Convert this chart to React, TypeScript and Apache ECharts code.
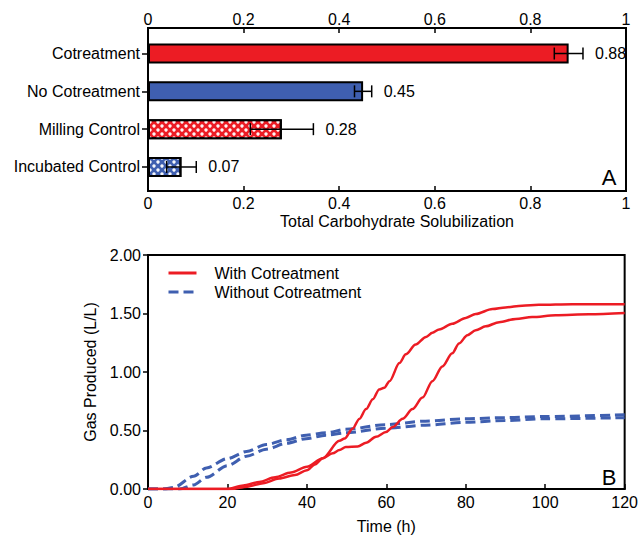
import React, { useEffect, useRef } from "react";
import * as echarts from "echarts";

const categories = ["Cotreatment", "No Cotreatment", "Milling Control", "Incubated Control"];
const solubilization = [0.88, 0.45, 0.28, 0.07];
const solubilizationErr = [0.03, 0.018, 0.066, 0.031];

const timeRedA = [0, 20, 24, 28, 32, 36, 40, 44, 48.2, 49.5, 51.5, 53.2, 54.9, 56.6, 58.2, 59.5, 60.8, 63.3, 64.9, 67.4, 70, 71.6, 73.3, 76.6, 80, 82.5, 86.7, 90, 94.2, 98.4, 106.8, 120];
const gasRedA = [0, 0, 0.03, 0.06, 0.1, 0.14, 0.19, 0.263, 0.412, 0.431, 0.515, 0.599, 0.683, 0.767, 0.851, 0.866, 0.922, 1.076, 1.151, 1.235, 1.3, 1.336, 1.364, 1.412, 1.462, 1.496, 1.538, 1.552, 1.566, 1.574, 1.58, 1.58];

const timeRedB = [0, 21, 25, 29, 33, 37, 40, 42, 44, 46.5, 48.2, 49.8, 52.8, 54.9, 57.4, 59.9, 61.6, 64.1, 66.6, 69.1, 71.6, 74.1, 76.6, 78.3, 80.4, 82.5, 85, 88.4, 92.6, 96.7, 102.6, 111, 120];
const gasRedB = [0, 0, 0.02, 0.05, 0.09, 0.12, 0.16, 0.21, 0.263, 0.305, 0.333, 0.36, 0.363, 0.395, 0.446, 0.487, 0.529, 0.6, 0.683, 0.781, 0.922, 1.048, 1.16, 1.244, 1.314, 1.356, 1.39, 1.426, 1.454, 1.47, 1.485, 1.493, 1.504];

const timeBlueA = [0, 4, 6.5, 11.5, 14.7, 20, 24.8, 29.8, 34.8, 39.8, 44.8, 49.8, 59.8, 69.8, 79.8, 89.8, 99.8, 120];
const gasBlueA = [0, 0, 0.014, 0.11, 0.18, 0.26, 0.32, 0.38, 0.42, 0.46, 0.48, 0.51, 0.55, 0.58, 0.6, 0.61, 0.62, 0.635];

const timeBlueB = [0, 8, 11.5, 14.7, 20, 24.8, 29.8, 34.8, 39.8, 44.8, 49.8, 59.8, 69.8, 79.8, 89.8, 99.8, 120];
const gasBlueB = [0, 0, 0.035, 0.1, 0.2, 0.28, 0.34, 0.39, 0.43, 0.46, 0.48, 0.52, 0.545, 0.57, 0.585, 0.6, 0.61];

const RED = "#ec1c24";
const BLUE = "#3f5fb0";
const FONT = "'Liberation Sans', Arial, sans-serif";
const FS = 16;

const zip = (t: number[], v: number[]) => t.map((x, i) => [x, v[i]]);

export default function App() {
  const ref = useRef<HTMLDivElement>(null);
  useEffect(() => {
    if (!ref.current) return;
    const chart = echarts.init(ref.current, null, { renderer: "svg" });
    const dotDecal = {
      symbol: "circle",
      symbolSize: 0.85,
      color: "rgba(255,255,255,0.95)",
      dashArrayX: [[3.5, 3.5], [0, 3.5, 3.5, 0]],
      dashArrayY: [3.5, 0],
      rotation: 0,
    };
    const barColors = [RED, BLUE, RED, BLUE];
    const barData = solubilization.map((v, i) => ({
      value: v,
      itemStyle: {
        color: barColors[i],
        borderColor: "#000",
        borderWidth: 2,
        decal: i >= 2 ? dotDecal : undefined,
      },
    }));
    const errData = solubilization.map((v, i) => [v, i, solubilizationErr[i]]);

    const lineCommon = {
      type: "line",
      xAxisIndex: 2,
      yAxisIndex: 1,
      showSymbol: false,
      symbol: "none",
      smooth: 0.3,
      smoothMonotone: "x",
    };

    const option: any = {
      animation: false,
      textStyle: { fontFamily: FONT },
      grid: [
        { left: 148, right: 15, top: 34.6, height: 151.3 },
        {
          left: 148,
          right: 15,
          top: 255,
          height: 238,
          show: true,
          borderColor: "#000",
          borderWidth: 2,
          backgroundColor: "transparent",
        },
      ],
      xAxis: [
        {
          gridIndex: 0,
          type: "value",
          position: "top",
          offset: 6.6,
          min: 0,
          max: 1,
          interval: 0.2,
          axisLine: { show: false },
          axisTick: { show: true, inside: true, length: 5, lineStyle: { color: "#000", width: 1.5 } },
          axisLabel: { color: "#000", fontSize: FS, margin: 1, fontFamily: FONT },
          splitLine: { show: false },
        },
        {
          gridIndex: 0,
          type: "value",
          position: "bottom",
          offset: 5.1,
          min: 0,
          max: 1,
          interval: 0.2,
          axisLine: { show: false },
          axisTick: { show: true, inside: true, length: 5, lineStyle: { color: "#000", width: 1.5 } },
          axisLabel: { color: "#000", fontSize: FS, margin: 4, fontFamily: FONT },
          splitLine: { show: false },
          name: "Total Carbohydrate Solubilization",
          nameLocation: "middle",
          nameGap: 22,
          nameTextStyle: { color: "#000", fontSize: FS, fontFamily: FONT, padding: [0, 0, 0, 20] },
        },
        {
          gridIndex: 1,
          type: "value",
          min: 0,
          max: 120,
          interval: 20,
          axisLine: { show: true, lineStyle: { color: "#000", width: 2 } },
          axisTick: { show: true, inside: true, length: 5, lineStyle: { color: "#000", width: 1.5 } },
          axisLabel: { color: "#000", fontSize: FS, margin: 5, fontFamily: FONT },
          splitLine: { show: false },
          name: "Time (h)",
          nameLocation: "middle",
          nameGap: 29,
          nameTextStyle: { color: "#000", fontSize: FS, fontFamily: FONT },
        },
      ],
      yAxis: [
        {
          gridIndex: 0,
          type: "category",
          inverse: true,
          data: categories,
          axisLine: { show: false },
          axisTick: { show: true, alignWithLabel: true, length: 6, lineStyle: { color: "#000", width: 1.5 } },
          axisLabel: { color: "#000", fontSize: FS, margin: 8, fontFamily: FONT },
        },
        {
          gridIndex: 1,
          type: "value",
          min: 0,
          max: 2,
          interval: 0.5,
          axisLine: { show: true, lineStyle: { color: "#000", width: 2 } },
          axisTick: { show: true, inside: false, length: 5, lineStyle: { color: "#000", width: 1.5 } },
          axisLabel: {
            color: "#000",
            fontSize: FS,
            margin: 7,
            fontFamily: FONT,
            formatter: (v: number) => v.toFixed(2),
          },
          splitLine: { show: false },
          name: "Gas Produced (L/L)",
          nameLocation: "middle",
          nameGap: 39,
          nameTextStyle: { color: "#000", fontSize: FS, fontFamily: FONT },
        },
      ],
      legend: {
        show: true,
        orient: "vertical",
        left: 167,
        top: 265,
        padding: 0,
        itemWidth: 28,
        itemHeight: 12,
        itemGap: 3,
        selectedMode: false,
        itemStyle: { opacity: 0 },
        lineStyle: { width: 3 },
        data: ["With Cotreatment", "Without Cotreatment"],
        textStyle: { color: "#000", fontSize: FS, fontFamily: FONT, padding: [0, 0, 0, 13], lineHeight: 16 },
      },
      series: [
        {
          type: "bar",
          xAxisIndex: 1,
          yAxisIndex: 0,
          barWidth: 20,
          data: barData,
          z: 2,
        },
        {
          type: "custom",
          xAxisIndex: 1,
          yAxisIndex: 0,
          encode: { x: 0, y: 1 },
          data: errData,
          z: 5,
          renderItem: (params: any, api: any) => {
            const v = api.value(0);
            const idx = api.value(1);
            const e = api.value(2);
            const lo = api.coord([v - e, idx]);
            const hi = api.coord([v + e, idx]);
            const y = lo[1];
            const h = 6;
            const st = { stroke: "#000", lineWidth: 1.5 };
            return {
              type: "group",
              children: [
                { type: "line", shape: { x1: lo[0], y1: y, x2: hi[0], y2: y }, style: st },
                { type: "line", shape: { x1: lo[0], y1: y - h, x2: lo[0], y2: y + h }, style: st },
                { type: "line", shape: { x1: hi[0], y1: y - h, x2: hi[0], y2: y + h }, style: st },
                {
                  type: "text",
                  x: hi[0] + 12,
                  y: y,
                  style: {
                    text: v.toFixed(2),
                    fill: "#000",
                    fontSize: FS,
                    fontFamily: FONT,
                    align: "left",
                    verticalAlign: "middle",
                  },
                },
              ],
            };
          },
        },
        {
          ...lineCommon,
          name: "Without Cotreatment",
          data: zip(timeBlueA, gasBlueA),
          lineStyle: { color: BLUE, width: 3, type: [10, 5] },
          itemStyle: { color: BLUE },
        },
        {
          ...lineCommon,
          name: "Without Cotreatment",
          data: zip(timeBlueB, gasBlueB),
          lineStyle: { color: BLUE, width: 3, type: [10, 5] },
          itemStyle: { color: BLUE },
        },
        {
          ...lineCommon,
          name: "With Cotreatment",
          data: zip(timeRedA, gasRedA),
          lineStyle: { color: RED, width: 2.5 },
          itemStyle: { color: RED },
        },
        {
          ...lineCommon,
          name: "With Cotreatment",
          data: zip(timeRedB, gasRedB),
          lineStyle: { color: RED, width: 2.5 },
          itemStyle: { color: RED },
        },
      ],
      graphic: [
        {
          type: "rect",
          shape: { x: 148, y: 28, width: 478, height: 163 },
          style: { fill: "none", stroke: "#000", lineWidth: 2 },
          z: 10,
          silent: true,
        },
        {
          type: "text",
          x: 609,
          y: 177,
          style: { text: "A", fill: "#000", fontSize: 22, fontFamily: FONT, align: "center", verticalAlign: "middle" },
          z: 10,
        },
        {
          type: "text",
          x: 609,
          y: 477,
          style: { text: "B", fill: "#000", fontSize: 22, fontFamily: FONT, align: "center", verticalAlign: "middle" },
          z: 10,
        },
      ],
    };
    chart.setOption(option);
    return () => chart.dispose();
  }, []);
  return (
    <div
      ref={ref}
      style={{ position: "fixed", left: 0, top: 0, width: 641, height: 535, background: "#fff" }}
    />
  );
}
